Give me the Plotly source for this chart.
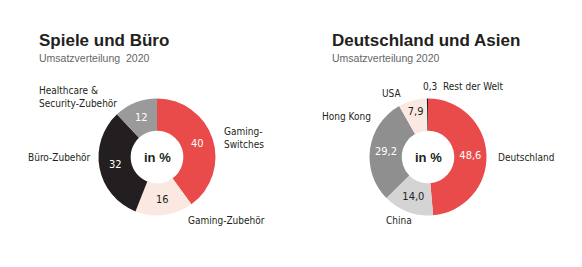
import plotly.graph_objects as go

W, H = 582, 267

# Data
left_labels = ["Gaming-Switches", "Gaming-Zubehör", "Büro-Zubehör", "Healthcare & Security-Zubehör"]
left_values = [40, 16, 32, 12]
left_colors = ["#E94B4A", "#FBE8E1", "#231F20", "#9A9A9A"]
left_textcolors = ["#FFFFFF", "#231F20", "#FFFFFF", "#FFFFFF"]

right_labels = ["Deutschland", "China", "Hong Kong", "USA", "Rest der Welt"]
right_values = [48.6, 14.0, 29.2, 7.9, 0.3]
right_colors = ["#E94B4A", "#D4D4D4", "#8F8F8F", "#FBE8E1", "#231F20"]
right_textcolors = ["#FFFFFF", "#231F20", "#FFFFFF", "#231F20", "#231F20"]

def de(v, dec):
    return f"{v:.{dec}f}".replace(".", ",")

left_text = [de(v, 0) for v in left_values]
right_text = [de(v, 1) for v in right_values]
right_text[-1] = ""  # tiny slice labelled outside

def px(x, y):
    return x / W, 1 - y / H

NARROW = "DejaVu Sans Condensed, Liberation Sans Narrow, sans-serif"
BOLD = "Liberation Sans, Arial, sans-serif"

def dom(cx, cy, r):
    x0, y1 = px(cx - r, cy - r)
    x1, y0 = px(cx + r, cy + r)
    return dict(x=[x0, x1], y=[y0, y1])

fig = go.Figure()
fig.add_trace(go.Pie(
    labels=left_labels, values=left_values, text=left_text, textinfo="text",
    textposition="inside", insidetextorientation="horizontal",
    marker=dict(colors=left_colors, line=dict(width=0)),
    textfont=dict(color=left_textcolors, size=11, family=NARROW),
    hole=0.45, sort=False, direction="clockwise", rotation=0,
    domain=dom(157, 157, 58.5), showlegend=False, hoverinfo="label+value",
))
fig.add_trace(go.Pie(
    labels=right_labels, values=right_values, text=right_text, textinfo="text",
    textposition="inside", insidetextorientation="horizontal",
    marker=dict(colors=right_colors, line=dict(width=0)),
    textfont=dict(color=right_textcolors, size=11, family=NARROW),
    hole=0.45, sort=False, direction="clockwise", rotation=0,
    domain=dom(428, 157, 58.5), showlegend=False, hoverinfo="label+value",
))

ann = []
def add(x, y, text, size=10, color="#231F20", family=NARROW, xanchor="left", yanchor="middle", align="left"):
    xp, yp = px(x, y)
    ann.append(dict(x=xp, y=yp, xref="paper", yref="paper", text=text, showarrow=False,
                    xanchor=xanchor, yanchor=yanchor, align=align,
                    font=dict(size=size, color=color, family=family)))

# Titles
add(37, 41, "<b>Spiele und Büro</b>", size=17, family=BOLD)
add(37, 58, "Umsatzverteilung  2020", size=10.5, color="#666666", family=BOLD)
add(330, 41, "<b>Deutschland und Asien</b>", size=17, family=BOLD)
add(330, 58, "Umsatzverteilung 2020", size=10.5, color="#666666", family=BOLD)

# Center labels
add(157, 157, "<b>in %</b>", size=13, family=BOLD, xanchor="center")
add(428, 157, "<b>in %</b>", size=13, family=BOLD, xanchor="center")

# Left outside labels
add(119, 97, "Healthcare &<br>Security-Zubehör", xanchor="right")
add(222, 138, "Gaming-<br>Switches")
add(93, 157, left_labels[2], xanchor="right")
add(186, 220, left_labels[1])

# Right outside labels
add(421, 86, de(right_values[4], 1) + "  " + right_labels[4])
add(403, 94, right_labels[3], xanchor="right")
add(373, 117, right_labels[2], xanchor="right")
add(496, 157, right_labels[0])
add(384, 220, right_labels[1])

fig.update_layout(
    width=W, height=H, margin=dict(l=0, r=0, t=0, b=0),
    paper_bgcolor="white", plot_bgcolor="white",
    annotations=ann,
)
fig.write_html("out.html")
